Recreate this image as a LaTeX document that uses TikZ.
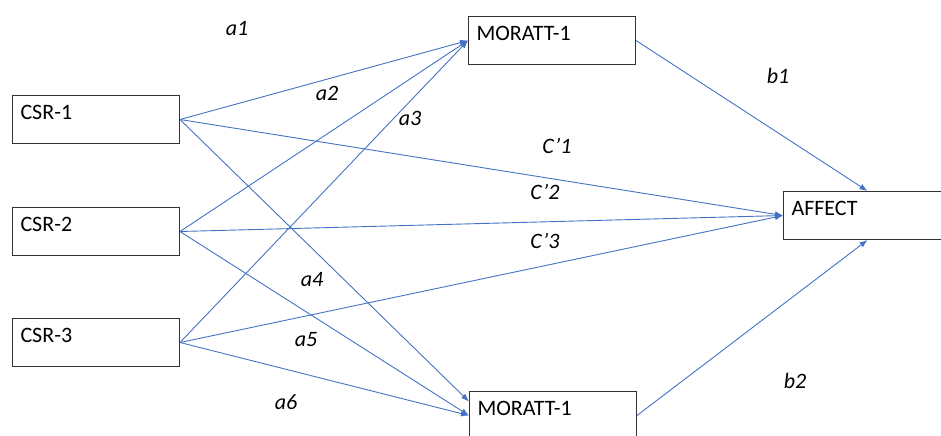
\documentclass[tikz,border=0pt]{standalone}
\usepackage{fontspec}
\setmainfont{Carlito}
\usetikzlibrary{arrows.meta}
\definecolor{pathblue}{RGB}{68,114,196}
\tikzset{
  box/.style={draw=black!80, line width=0.5pt, rectangle, anchor=north west,
    text width=75.5pt, align=left, inner xsep=4pt, inner ysep=0pt,
    text height=12pt, text depth=12pt, font=\fontsize{11}{13}\selectfont},
  path/.style={draw=pathblue, line width=0.45pt, -{Latex[length=4pt,width=3pt]}},
  coef/.style={font=\fontsize{11}{13}\selectfont\itshape, inner sep=0pt}
}
\begin{document}
\begin{tikzpicture}[x=0.5pt,y=-0.5pt]
  \useasboundingbox (0,0) rectangle (941,435);
  % boxes
  \node[box] (csr1) at (12,95) {CSR-1};
  \node[box] (csr2) at (12,207) {CSR-2};
  \node[box] (csr3) at (12,318) {CSR-3};
  \node[box] (mor1) at (468,16) {MORATT-1};
  \node[box] (mor2) at (469,391) {MORATT-1};
  \node[box, text width=100pt] (aff) at (783,191) {AFFECT};
  % paths
  \draw[path] (csr1.east) -- (mor1.west);
  \draw[path] (csr2.east) -- (mor1.west);
  \draw[path] (csr3.east) -- (mor1.west);
  \draw[path] (csr1.east) -- ([yshift=7pt]mor2.west);
  \draw[path] (csr2.east) -- (mor2.west);
  \draw[path] (csr3.east) -- (mor2.west);
  \draw[path] (csr1.east) -- (aff.west);
  \draw[path] (csr2.east) -- (aff.west);
  \draw[path] (csr3.east) -- (aff.west);
  \draw[path] (mor1.east) -- ([xshift=-12pt]aff.north);
  \draw[path] (mor2.east) -- ([xshift=-12pt]aff.south);
  % labels
  \node[coef] (a1) at (237,28) {a1};
  \node[coef] (a2) at (327,93) {a2};
  \node[coef] (a3) at (410,118) {a3};
  \node[coef] (a4) at (312,280) {a4};
  \node[coef] (a5) at (306,340) {a5};
  \node[coef] (a6) at (286,402) {a6};
  \node[coef] (c1) at (557,146) {C’1};
  \node[coef] (c2) at (545,192) {C’2};
  \node[coef] (c3) at (545,241) {C’3};
  \node[coef] (b1) at (778,76) {b1};
  \node[coef] (b2) at (795,381) {b2};
\end{tikzpicture}
\end{document}
